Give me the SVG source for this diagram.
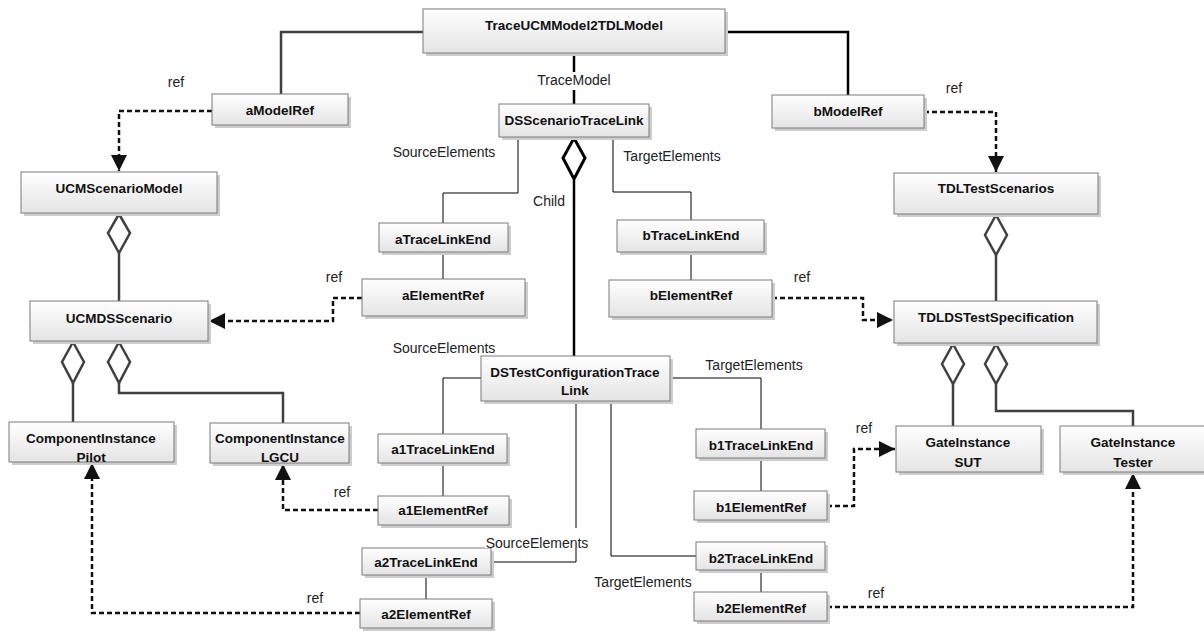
<svg xmlns="http://www.w3.org/2000/svg" width="1204" height="631" viewBox="0 0 1204 631">
<style>
.box{fill:url(#g);stroke:#7a7a7a;stroke-width:1}
.sh{fill:#cdcdcd}
.t{font-family:"Liberation Sans",Arial,sans-serif;font-weight:bold;font-size:13.5px;text-anchor:middle;fill:#111}
.l{font-family:"Liberation Sans",Arial,sans-serif;font-size:14px;text-anchor:middle;fill:#222}
.thin{fill:none;stroke:#000;stroke-width:1}
.thick{fill:none;stroke:#000;stroke-width:2.5}
.comp{fill:none;stroke:#404040;stroke-width:2.5}
.dia{fill:#fff;stroke:#404040;stroke-width:2.5}
.diab{fill:#fff;stroke:#000;stroke-width:3}
.ref{fill:none;stroke:#111;stroke-width:2.5;stroke-dasharray:5,3}
</style>
<defs>
<linearGradient id="g" x1="0" y1="0" x2="0" y2="1">
<stop offset="0" stop-color="#ffffff"/>
<stop offset="1" stop-color="#e4e4e4"/>
</linearGradient>
<marker id="arr" markerUnits="userSpaceOnUse" markerWidth="17" markerHeight="17" refX="16" refY="8" orient="auto">
<path d="M0,0 L16,8 L0,16 z" fill="#111"/>
</marker>
</defs>
<rect width="1204" height="631" fill="#fff"/>

<g id="connectors">
<path class="comp" d="M423,32 H281 V94"/>
<path class="thick" d="M725,32 H848 V95"/>
<path class="thick" d="M574,53 V104"/>
<path class="thin" d="M518,137 V193 H443 V223"/>
<path class="thin" d="M613,137 V192 H691 V220"/>
<path class="thin" d="M443,252 V279"/>
<path class="thin" d="M691,252 V280"/>
<path class="thick" stroke-width="3" d="M574,180 V356"/>
<polygon class="diab" points="574,138 585,158 574,179 563,158"/>
<path class="ref" d="M362,298 H333 V321 H209" marker-end="url(#arr)"/>
<path class="ref" d="M772,298 H863 V320 H893" marker-end="url(#arr)"/>
<path class="ref" d="M212,111 H119 V171" marker-end="url(#arr)"/>
<path class="ref" d="M924,112 H996 V172" marker-end="url(#arr)"/>
<path class="comp" d="M119,253 V301"/>
<polygon class="dia" points="119,214 130,233 119,253 108,233"/>
<path class="comp" d="M996,255 V301"/>
<polygon class="dia" points="996,215 1007,235 996,255 985,235"/>
<path class="comp" d="M73,383 V422"/>
<path class="comp" d="M119,383 V393 H283 V423"/>
<polygon class="dia" points="73,342 84,362 73,383 62,362"/>
<polygon class="dia" points="119,342 130,362 119,383 108,362"/>
<path class="comp" d="M953,384 V426"/>
<path class="comp" d="M996,384 V411 H1133 V426"/>
<polygon class="dia" points="953,344 964,364 953,384 942,364"/>
<polygon class="dia" points="996,344 1007,364 996,384 985,364"/>
<path class="thin" d="M481,378 H443 V434"/>
<path class="thin" d="M670,378 H761 V429"/>
<path class="thin" d="M443,463 V496"/>
<path class="thin" d="M761,458 V491"/>
<path class="thin" d="M576,401 V562 H491"/>
<path class="thin" d="M611,401 V556 H696"/>
<path class="thin" d="M426,575 V599"/>
<path class="thin" d="M761,570 V592"/>
<path class="ref" d="M378,510 H283 V464" marker-end="url(#arr)"/>
<path class="ref" d="M360,613 H92 V463" marker-end="url(#arr)"/>
<path class="ref" d="M827,506 H854 V449 H895" marker-end="url(#arr)"/>
<path class="ref" d="M827,607 H1133 V473" marker-end="url(#arr)"/>
</g>

<g id="n-trace"><rect class="sh" x="426" y="12" width="302" height="44"/><rect class="box" x="423" y="9" width="302" height="44"/><text class="t" font-size="14" x="574" y="30">TraceUCMModel2TDLModel</text></g>
<g id="n-aModelRef"><rect class="sh" x="215" y="97" width="136" height="31"/><rect class="box" x="212" y="94" width="136" height="31"/><text class="t" x="280" y="115">aModelRef</text></g>
<g id="n-bModelRef"><rect class="sh" x="775" y="98" width="152" height="33"/><rect class="box" x="772" y="95" width="152" height="33"/><text class="t" x="848" y="116">bModelRef</text></g>
<g id="n-dsScenario"><rect class="sh" x="502" y="107" width="150" height="33"/><rect class="box" x="499" y="104" width="150" height="33"/><text class="t" x="574" y="125">DSScenarioTraceLink</text></g>
<g id="n-ucmModel"><rect class="sh" x="24" y="175" width="196" height="41"/><rect class="box" x="21" y="172" width="196" height="41"/><text class="t" x="119" y="193">UCMScenarioModel</text></g>
<g id="n-tdlScen"><rect class="sh" x="897" y="176" width="204" height="41"/><rect class="box" x="894" y="173" width="204" height="41"/><text class="t" x="996" y="193">TDLTestScenarios</text></g>
<g id="n-aTLE"><rect class="sh" x="382" y="226" width="129" height="29"/><rect class="box" x="379" y="223" width="129" height="29"/><text class="t" x="443" y="244">aTraceLinkEnd</text></g>
<g id="n-aER"><rect class="sh" x="365" y="282" width="163" height="37"/><rect class="box" x="362" y="279" width="163" height="37"/><text class="t" x="443" y="300">aElementRef</text></g>
<g id="n-bTLE"><rect class="sh" x="620" y="223" width="147" height="32"/><rect class="box" x="617" y="220" width="147" height="32"/><text class="t" x="691" y="240">bTraceLinkEnd</text></g>
<g id="n-bER"><rect class="sh" x="612" y="283" width="163" height="37"/><rect class="box" x="609" y="280" width="163" height="37"/><text class="t" x="691" y="300">bElementRef</text></g>
<g id="n-ucmDS"><rect class="sh" x="33" y="304" width="178" height="40"/><rect class="box" x="30" y="301" width="178" height="40"/><text class="t" x="119" y="323">UCMDSScenario</text></g>
<g id="n-tdlDS"><rect class="sh" x="897" y="304" width="203" height="42"/><rect class="box" x="894" y="301" width="203" height="42"/><text class="t" x="996" y="322">TDLDSTestSpecification</text></g>
<g id="n-dsTC"><rect class="sh" x="484" y="359" width="189" height="45"/><rect class="box" x="481" y="356" width="189" height="45"/><text class="t" font-size="13" x="575" y="377">DSTestConfigurationTrace</text><text class="t" font-size="13" x="575" y="395">Link</text></g>
<g id="n-pilot"><rect class="sh" x="12" y="425" width="165" height="40"/><rect class="box" x="9" y="422" width="165" height="40"/><text class="t" x="91" y="443">ComponentInstance</text><text class="t" x="91" y="462">Pilot</text></g>
<g id="n-lgcu"><rect class="sh" x="213" y="426" width="139" height="40"/><rect class="box" x="210" y="423" width="139" height="40"/><text class="t" font-size="13" x="280" y="443">ComponentInstance</text><text class="t" x="280" y="462">LGCU</text></g>
<g id="n-a1TLE"><rect class="sh" x="381" y="437" width="129" height="29"/><rect class="box" x="378" y="434" width="129" height="29"/><text class="t" x="443" y="454">a1TraceLinkEnd</text></g>
<g id="n-a1ER"><rect class="sh" x="381" y="499" width="131" height="29"/><rect class="box" x="378" y="496" width="131" height="29"/><text class="t" x="443" y="515">a1ElementRef</text></g>
<g id="n-b1TLE"><rect class="sh" x="699" y="432" width="129" height="29"/><rect class="box" x="696" y="429" width="129" height="29"/><text class="t" x="761" y="450">b1TraceLinkEnd</text></g>
<g id="n-b1ER"><rect class="sh" x="697" y="494" width="133" height="29"/><rect class="box" x="694" y="491" width="133" height="29"/><text class="t" x="761" y="512">b1ElementRef</text></g>
<g id="n-a2TLE"><rect class="sh" x="365" y="551" width="129" height="27"/><rect class="box" x="362" y="548" width="129" height="27"/><text class="t" x="426" y="567">a2TraceLinkEnd</text></g>
<g id="n-a2ER"><rect class="sh" x="363" y="602" width="132" height="29"/><rect class="box" x="360" y="599" width="132" height="29"/><text class="t" x="426" y="619">a2ElementRef</text></g>
<g id="n-b2TLE"><rect class="sh" x="699" y="545" width="129" height="28"/><rect class="box" x="696" y="542" width="129" height="28"/><text class="t" x="761" y="563">b2TraceLinkEnd</text></g>
<g id="n-b2ER"><rect class="sh" x="697" y="595" width="133" height="29"/><rect class="box" x="694" y="592" width="133" height="29"/><text class="t" x="761" y="613">b2ElementRef</text></g>
<g id="n-sut"><rect class="sh" x="899" y="429" width="145" height="46"/><rect class="box" x="896" y="426" width="145" height="46"/><text class="t" x="968" y="447">GateInstance</text><text class="t" x="968" y="467">SUT</text></g>
<g id="n-tester"><rect class="sh" x="1063" y="429" width="146" height="46"/><rect class="box" x="1060" y="426" width="146" height="46"/><text class="t" x="1133" y="447">GateInstance</text><text class="t" x="1133" y="467">Tester</text></g>

<g id="labels">
<rect x="536" y="72" width="76" height="18" fill="#fff"/>
<text class="l" x="574" y="85">TraceModel</text>
<text class="l" x="176" y="87">ref</text>
<text class="l" x="954" y="93">ref</text>
<text class="l" x="444" y="157">SourceElements</text>
<text class="l" x="672" y="161">TargetElements</text>
<text class="l" x="549" y="206">Child</text>
<text class="l" x="334" y="282">ref</text>
<text class="l" x="802" y="282">ref</text>
<text class="l" x="444" y="353">SourceElements</text>
<text class="l" x="754" y="370">TargetElements</text>
<text class="l" x="342" y="497">ref</text>
<text class="l" x="864" y="433">ref</text>
<rect x="485" y="528" width="105" height="20" fill="#fff"/>
<text class="l" x="537" y="548">SourceElements</text>
<text class="l" x="643" y="587">TargetElements</text>
<text class="l" x="315" y="603">ref</text>
<text class="l" x="876" y="598">ref</text>
</g>
</svg>
